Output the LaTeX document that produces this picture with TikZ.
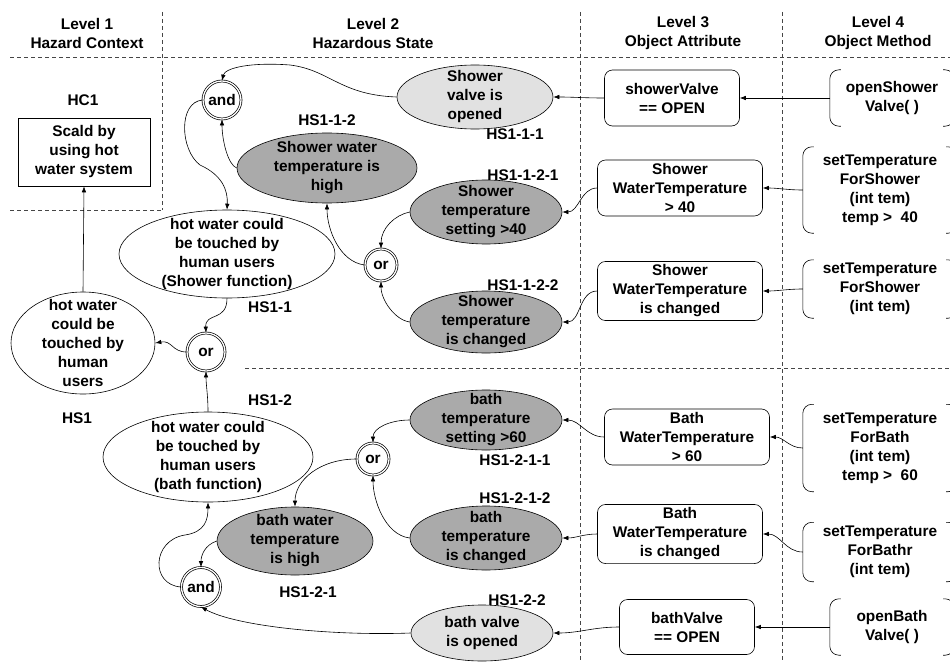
\documentclass[tikz,border=0pt]{standalone}
\usepackage{fontspec}
\setmainfont{Liberation Sans}
\usetikzlibrary{shapes.geometric,arrows.meta}
\definecolor{darkfill}{RGB}{170,170,170}
\definecolor{lightfill}{RGB}{225,225,225}
\definecolor{dashcol}{RGB}{70,70,70}
\begin{document}
\begin{tikzpicture}[x=1pt,y=-1pt,
  font=\fontsize{15.4}{19}\selectfont\bfseries,
  every node/.style={align=center},
  dline/.style={draw=dashcol, line width=0.8pt, dash pattern=on 4pt off 3pt},
  arr/.style={-{Latex[length=6pt,width=4.5pt]}, line width=0.6pt},
  lbl/.style={inner sep=0pt},
  ell/.style={ellipse, draw, line width=0.6pt, inner sep=-80pt},
  dark/.style={ell, fill=darkfill},
  light/.style={ell, fill=lightfill},
  plain/.style={ell, fill=white},
  gate/.style={circle, draw, double, double distance=1.3pt, line width=0.7pt, inner sep=0pt, fill=white},
  hbox/.style={rectangle, draw, line width=0.6pt},
  attr/.style={rectangle, draw, line width=0.6pt, rounded corners=8pt},
  meth/.style={rectangle, inner sep=0pt}
]
\useasboundingbox (0,0) rectangle (950,661);

% dashed frame lines
\draw[dline] (10,57) -- (950,57);
\draw[dline] (162,12) -- (162,210);
\draw[dline] (10,210) -- (162,210);
\draw[dline] (580,12) -- (580,661);
\draw[dline] (782,12) -- (782,661);
\draw[dline] (245,368) -- (950,368);

% headers
\node[lbl] (h1) at (87,33) {Level 1\\Hazard Context};
\node[lbl] (h2) at (373,33) {Level 2\\Hazardous State};
\node[lbl] (h3) at (683,33) {Level 3\\Object Attribute};
\node[lbl] (h4) at (878,33) {Level 4\\Object Method};

% level 1
\node[lbl] (hc1lbl) at (83,100) {HC1};
\node[hbox, minimum width=132pt, minimum height=68pt] (hc1) at (84,152) {Scald by\\using hot\\water system};

% level 2 ellipses
\node[plain, minimum width=144pt, minimum height=102pt] (hs1) at (83,343) {hot water\\could be\\touched by\\human\\users};
\node[lbl] (hs1lbl) at (77,418) {HS1};

\node[plain, minimum width=216pt, minimum height=88pt] (hs11) at (227,254) {hot water could\\be touched by\\human users\\(Shower function)};
\node[lbl] (hs11lbl) at (270,307) {HS1-1};

\node[plain, minimum width=210pt, minimum height=90pt] (hs12) at (208,457) {hot water could\\be touched by\\human users\\(bath function)};
\node[lbl] (hs12lbl) at (270,400) {HS1-2};

\node[dark, minimum width=180pt, minimum height=70pt] (hs112) at (327,168) {Shower water\\temperature is\\high};
\node[lbl] (hs112lbl) at (327,120) {HS1-1-2};

\node[light, minimum width=156pt, minimum height=64pt] (hs111) at (475,97) {Shower\\valve is\\opened};
\node[lbl] (hs111lbl) at (515,134) {HS1-1-1};

\node[dark, minimum width=152pt, minimum height=64pt] (hs1121) at (486,212) {Shower\\temperature\\setting >40};
\node[lbl] (hs1121lbl) at (523,175) {HS1-1-2-1};

\node[dark, minimum width=152pt, minimum height=62pt] (hs1122) at (486,322) {Shower\\temperature\\is changed};
\node[lbl] (hs1122lbl) at (523,285) {HS1-1-2-2};

\node[dark, minimum width=152pt, minimum height=60pt] (hs1211) at (486,420) {bath\\temperature\\setting >60};
\node[lbl] (hs1211lbl) at (515,460) {HS1-2-1-1};

\node[dark, minimum width=152pt, minimum height=64pt] (hs1212) at (486,538) {bath\\temperature\\is changed};
\node[lbl] (hs1212lbl) at (515,498) {HS1-2-1-2};

\node[light, minimum width=142pt, minimum height=56pt] (hs122) at (482,633) {bath valve\\is opened};
\node[lbl] (hs122lbl) at (517,600) {HS1-2-2};

\node[dark, minimum width=156pt, minimum height=68pt] (hs121) at (295,541) {bath water\\temperature\\is high};
\node[lbl] (hs121lbl) at (308,592) {HS1-2-1};

% gates
\node[gate, minimum size=38pt] (and1) at (222,100) {and};
\node[gate, minimum size=38pt] (or1) at (206,352) {or};
\node[gate, minimum size=32pt] (or2) at (381,265) {or};
\node[gate, minimum size=32pt] (or3) at (373,459) {or};
\node[gate, minimum size=39pt] (and2) at (201,587) {and};

% level 3
\node[attr, minimum width=135pt, minimum height=56pt] (a1) at (672,98) {showerValve\\== OPEN};
\node[attr, minimum width=165pt, minimum height=55pt] (a2) at (680,188) {Shower\\WaterTemperature\\> 40};
\node[attr, minimum width=165pt, minimum height=57pt] (a3) at (680,291) {Shower\\WaterTemperature\\is changed};
\node[attr, minimum width=165pt, minimum height=56pt] (a4) at (687,437) {Bath\\WaterTemperature\\> 60};
\node[attr, minimum width=165pt, minimum height=55pt] (a5) at (680,534) {Bath\\WaterTemperature\\is changed};
\node[attr, minimum width=135pt, minimum height=55pt] (a6) at (687,627) {bathValve\\== OPEN};

% level 4
\node[meth, minimum width=124pt, minimum height=56pt] (m1) at (892,98) {openShower\\Valve( )};
\node[meth, minimum width=154pt, minimum height=86pt] (m2) at (880,190) {setTemperature\\ForShower\\(int tem)\\temp > \ 40};
\node[meth, minimum width=154pt, minimum height=58pt] (m3) at (880,289) {setTemperature\\ForShower\\(int tem)};
\node[meth, minimum width=154pt, minimum height=87pt] (m4) at (880,448) {setTemperature\\ForBath\\(int tem)\\temp > \ 60};
\node[meth, minimum width=154pt, minimum height=59pt] (m5) at (880,552) {setTemperature\\ForBathr\\(int tem)};
\node[meth, minimum width=124pt, minimum height=56pt] (m6) at (892,627) {openBath\\Valve( )};
\foreach \n in {m1,m2,m3,m4,m5,m6}{
  \draw[line width=0.6pt, rounded corners=9pt] ([xshift=11pt]\n.north west) -- (\n.north west) -- (\n.south west) -- ([xshift=11pt]\n.south west);
  \draw[line width=0.6pt, rounded corners=9pt] ([xshift=-11pt]\n.north east) -- (\n.north east) -- (\n.south east) -- ([xshift=-11pt]\n.south east);
}

% level 4 -> level 3
\draw[arr] (m1.west) -- (a1.east);
\draw[arr] (m2.west) to[out=180,in=0] (a2.east);
\draw[arr] (m3.west) to[out=180,in=0] (a3.east);
\draw[arr] (m4.west) to[out=180,in=0] (a4.east);
\draw[arr] (m5.west) to[out=180,in=0] (a5.east);
\draw[arr] (m6.west) -- (a6.east);

% level 3 -> level 2
\draw[arr] (a1.west) to[out=180,in=0] (hs111.east);
\draw[arr] (a2.west) to[out=180,in=0] (hs1121.east);
\draw[arr] (a3.west) to[out=180,in=0] (hs1122.east);
\draw[arr] (a4.west) to[out=180,in=0] (hs1211.east);
\draw[arr] (a5.west) to[out=180,in=0] (hs1212.east);
\draw[arr] (a6.west) to[out=180,in=0] (hs122.east);

% shower branch
\draw[arr] (hs111.west) .. controls (340,95) and (330,70) .. (290,65) .. controls (250,62) and (225,68) .. (and1.north);
\draw[arr] (hs112.west) .. controls (228,165) and (222,140) .. (and1.south);
\draw[arr] (and1.west) .. controls (178,102) and (180,150) .. (200,165) .. controls (222,175) and (228,190) .. (hs11.north);
\draw[arr] (or2.west) .. controls (340,262) and (327,230) .. (hs112.south);
\draw[arr] (hs1121.west) .. controls (395,215) and (381,228) .. (or2.north);
\draw[arr] (hs1122.west) .. controls (395,320) and (381,300) .. (or2.south);

% top level
\draw[arr] (hs11.south) .. controls (227,322) and (205,312) .. (or1.north);
\draw[arr] (or1.west) .. controls (172,352) and (172,340) .. (hs1.east);
\draw[arr] (hs12.north) .. controls (208,395) and (206,385) .. (or1.south);
\draw[arr] (hs1.north) -- (hc1.south);

% bath branch
\draw[arr] (hs1211.west) .. controls (390,420) and (373,428) .. (or3.north);
\draw[arr] (hs1212.west) .. controls (385,535) and (373,500) .. (or3.south);
\draw[arr] (or3.west) .. controls (320,459) and (295,480) .. (hs121.north);
\draw[arr] (hs121.west) .. controls (205,545) and (201,555) .. (and2.north);
\draw[arr] (and2.west) .. controls (150,585) and (152,540) .. (185,535) .. controls (205,532) and (208,520) .. (hs12.south);
\draw[arr] (hs122.west) .. controls (330,636) and (235,626) .. (and2.south);
\end{tikzpicture}
\end{document}
